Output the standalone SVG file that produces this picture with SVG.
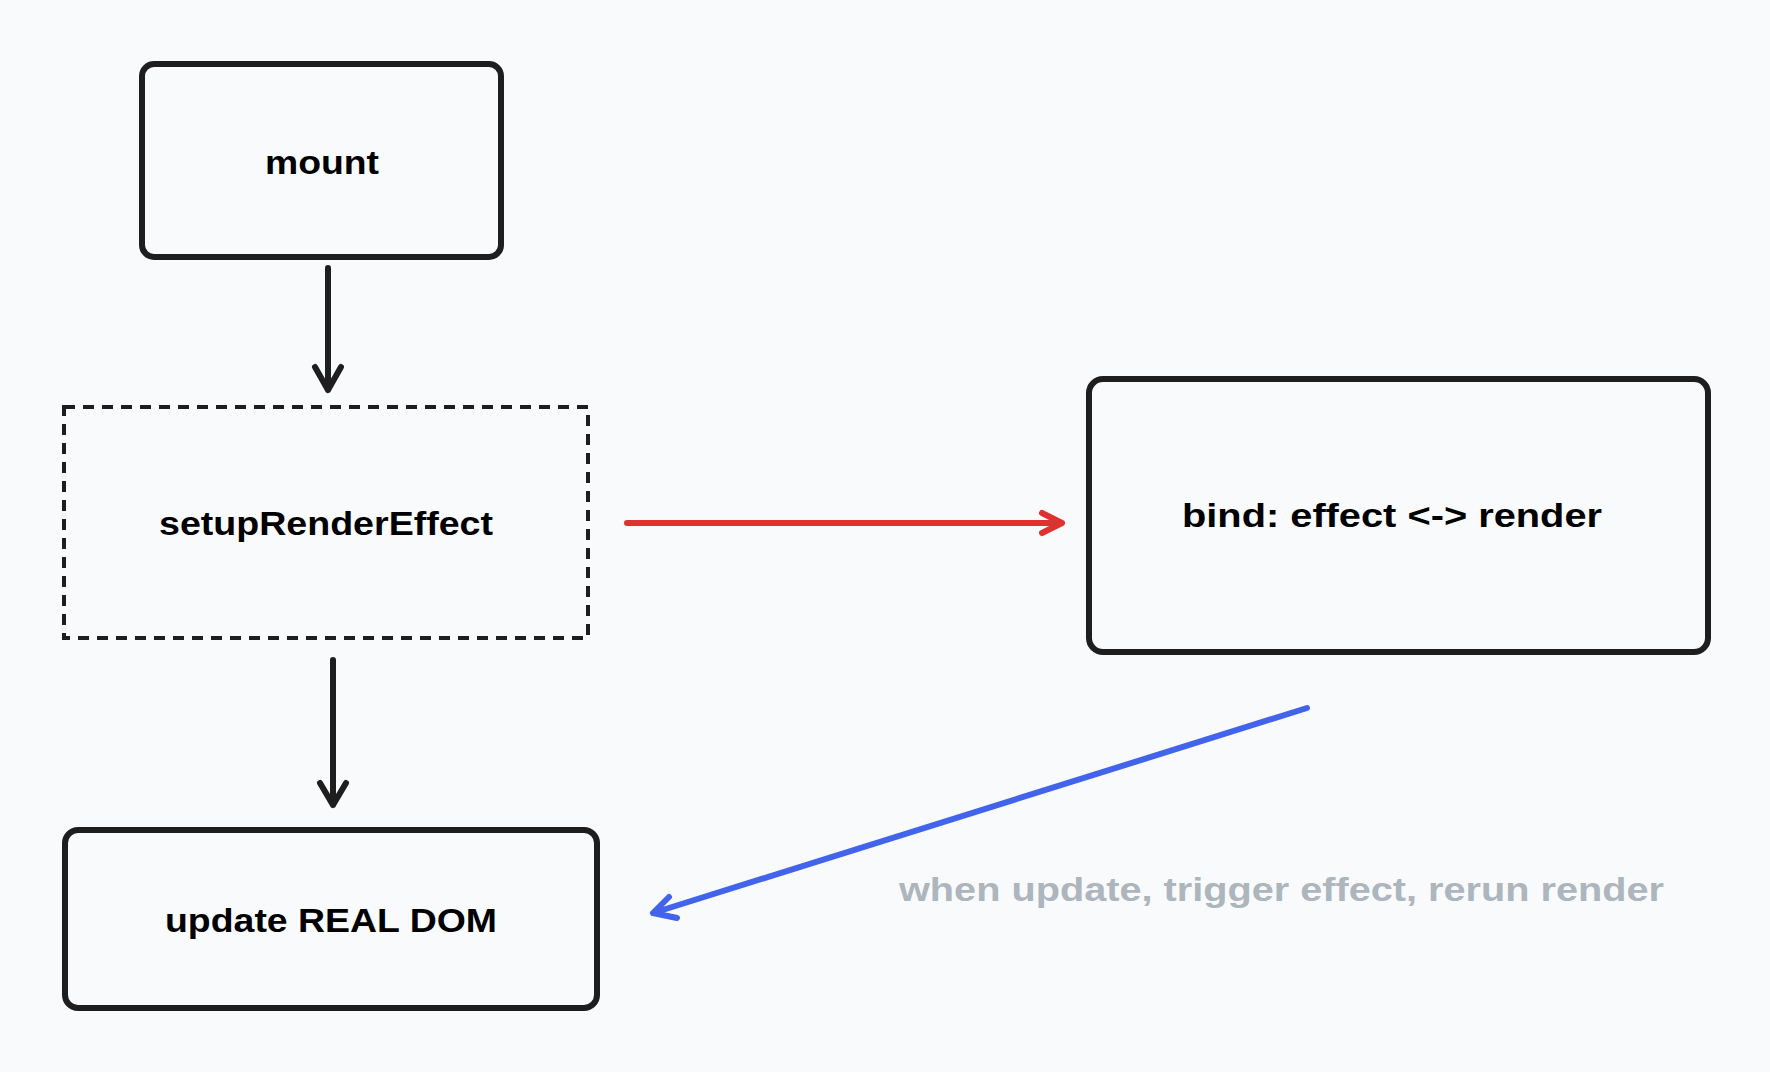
<svg xmlns="http://www.w3.org/2000/svg" width="1770" height="1072" viewBox="0 0 1770 1072">
<style>
.box{fill:#f9fafc;stroke:#1e1e1e;stroke-width:6;stroke-linejoin:round}
.dash{fill:none;stroke:#1e1e1e;stroke-width:4;stroke-dasharray:11 8}
.lbl{font-family:"Liberation Sans",Arial,sans-serif;font-weight:bold;font-size:33px;fill:#000;text-anchor:middle}
.note{font-family:"Liberation Sans",Arial,sans-serif;font-weight:bold;font-size:33px;fill:#adb5bd}
.ln{fill:none;stroke-width:6;stroke-linecap:round;stroke-linejoin:round}
</style>
<rect x="0" y="0" width="1770" height="1072" fill="#f9fafc"/>
<g id="node-mount">
<rect class="box" x="142" y="64" width="359" height="193" rx="12"/>
<text class="lbl" x="322" y="174" textLength="114" lengthAdjust="spacingAndGlyphs">mount</text>
</g>
<g id="node-setupRenderEffect">
<rect class="dash" x="64" y="407" width="524" height="231"/>
<text class="lbl" x="326" y="535" textLength="334" lengthAdjust="spacingAndGlyphs">setupRenderEffect</text>
</g>
<g id="node-bind">
<rect class="box" x="1089" y="379" width="619" height="273" rx="14"/>
<text class="lbl" x="1392" y="527" textLength="420" lengthAdjust="spacingAndGlyphs">bind: effect &lt;-&gt; render</text>
</g>
<g id="node-update">
<rect class="box" x="65" y="830" width="532" height="178" rx="13"/>
<text class="lbl" x="331" y="932" textLength="332" lengthAdjust="spacingAndGlyphs">update REAL DOM</text>
</g>
<g id="connectors">
<path class="ln" stroke="#1e1e1e" d="M328 268 L328 390 M315 367 L328 390 L341 367"/>
<path class="ln" stroke="#1e1e1e" d="M333 660 L333 805 M320 783 L333 805 L346 783"/>
<path class="ln" stroke="#e03131" d="M627 523 L1062 523 M1042 513 L1062 523 L1042 533"/>
<path class="ln" stroke="#4263eb" d="M1307 708 L653 913 M669 897 L653 913 L677 918"/>
<text class="note" x="899" y="901" textLength="765" lengthAdjust="spacingAndGlyphs">when update, trigger effect, rerun render</text>
</g>
</svg>
